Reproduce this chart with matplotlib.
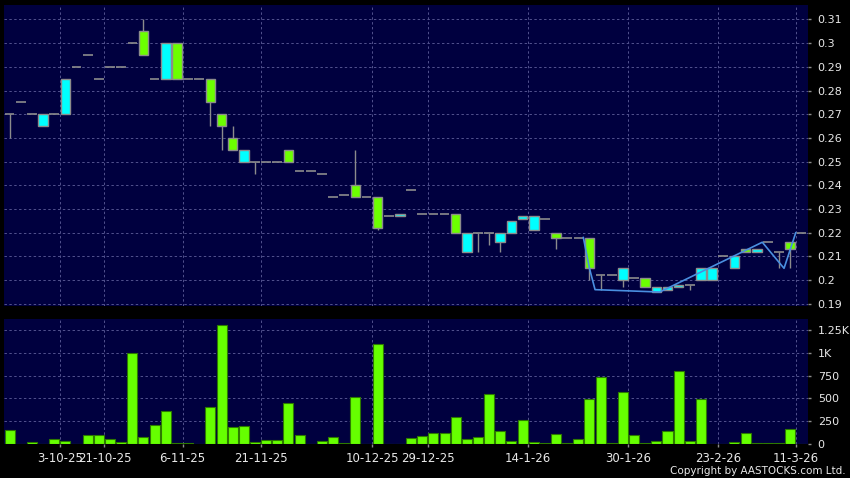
import numpy as np
import matplotlib
matplotlib.use("Agg")
import matplotlib.pyplot as plt
from matplotlib.patches import Rectangle

# daily candles, one slot per trading session
opens = [0.27, 0.275, 0.27, 0.265, 0.27, 0.27, 0.29, 0.295, 0.285, 0.29,
         0.29, 0.30, 0.305, 0.285, 0.285, 0.30, 0.285, 0.285, 0.285, 0.27,
         0.26, 0.25, 0.25, 0.25, 0.25, 0.255, 0.246, 0.246, 0.245, 0.235,
         0.236, 0.24, 0.235, 0.235, 0.227, 0.227, 0.238, 0.228, 0.228, 0.228,
         0.228, 0.212, 0.22, 0.22, 0.216, 0.22, 0.226, 0.221, 0.226, 0.22,
         0.218, 0.218, 0.218, 0.202, 0.202, 0.20, 0.201, 0.201, 0.195, 0.196,
         0.197, 0.198, 0.20, 0.20, 0.21, 0.205, 0.213, 0.212, 0.216, 0.212,
         0.216, 0.22]
highs = [0.27, 0.275, 0.27, 0.27, 0.27, 0.285, 0.29, 0.295, 0.285, 0.29,
         0.29, 0.30, 0.31, 0.285, 0.30, 0.30, 0.285, 0.285, 0.285, 0.27,
         0.265, 0.255, 0.25, 0.25, 0.25, 0.255, 0.246, 0.246, 0.245, 0.235,
         0.236, 0.255, 0.235, 0.235, 0.227, 0.228, 0.238, 0.228, 0.228, 0.228,
         0.228, 0.22, 0.22, 0.22, 0.22, 0.225, 0.227, 0.227, 0.226, 0.22,
         0.218, 0.218, 0.218, 0.202, 0.202, 0.205, 0.201, 0.201, 0.197, 0.197,
         0.198, 0.198, 0.205, 0.205, 0.21, 0.21, 0.213, 0.213, 0.216, 0.212,
         0.216, 0.22]
lows = [0.26, 0.275, 0.27, 0.265, 0.27, 0.27, 0.29, 0.295, 0.285, 0.29,
        0.29, 0.30, 0.295, 0.285, 0.285, 0.285, 0.285, 0.285, 0.265, 0.255,
        0.255, 0.25, 0.245, 0.25, 0.25, 0.25, 0.246, 0.246, 0.245, 0.235,
        0.236, 0.235, 0.235, 0.221, 0.227, 0.227, 0.238, 0.228, 0.228, 0.228,
        0.22, 0.212, 0.212, 0.215, 0.212, 0.22, 0.226, 0.221, 0.226, 0.213,
        0.218, 0.218, 0.20, 0.196, 0.202, 0.197, 0.201, 0.197, 0.195, 0.196,
        0.197, 0.196, 0.20, 0.20, 0.21, 0.205, 0.212, 0.212, 0.216, 0.205,
        0.205, 0.22]
closes = [0.27, 0.275, 0.27, 0.27, 0.27, 0.285, 0.29, 0.295, 0.285, 0.29,
          0.29, 0.30, 0.295, 0.285, 0.30, 0.285, 0.285, 0.285, 0.275, 0.265,
          0.255, 0.255, 0.25, 0.25, 0.25, 0.25, 0.246, 0.246, 0.245, 0.235,
          0.236, 0.235, 0.235, 0.222, 0.227, 0.228, 0.238, 0.228, 0.228, 0.228,
          0.22, 0.22, 0.22, 0.22, 0.22, 0.225, 0.227, 0.227, 0.226, 0.218,
          0.218, 0.218, 0.205, 0.202, 0.202, 0.205, 0.201, 0.197, 0.197, 0.197,
          0.198, 0.198, 0.205, 0.205, 0.21, 0.21, 0.212, 0.213, 0.216, 0.212,
          0.213, 0.22]
volumes = [155, 0, 25, 0, 58, 36, 0, 99, 99, 55,
           25, 1000, 80, 209, 367, 8, 8, 0, 411, 1305,
           187, 198, 18, 47, 44, 455, 99, 0, 36, 80,
           14, 511, 0, 1103, 0, 0, 70, 88, 117, 117,
           301, 58, 73, 544, 139, 36, 265, 18, 10, 114,
           10, 51, 489, 739, 10, 566, 99, 10, 36, 147,
           805, 36, 492, 0, 0, 25, 117, 14, 14, 12,
           169, 0]

# trend line drawn over the last part of the chart
line_x = [51.45, 52.0, 52.5, 58.3, 67.5, 69.45, 70.5]
line_y = [0.218, 0.205, 0.196, 0.195, 0.216, 0.205, 0.22]

label_slots = [5, 9, 16, 23, 33, 38, 47, 56, 64, 71]
date_labels = ["3-10-25", "21-10-25", "6-11-25", "21-11-25", "10-12-25",
               "29-12-25", "14-1-26", "30-1-26", "23-2-26", "11-3-26"]

price_ticks = [0.19, 0.20, 0.21, 0.22, 0.23, 0.24, 0.25, 0.26, 0.27, 0.28, 0.29, 0.30, 0.31]
vol_ticks = [0, 250, 500, 750, 1000, 1250]
vol_tick_labels = ["0", "250", "500", "750", "1K", "1.25K"]

navy = "#00003f"
grid_col = "#52528e"
edge_grey = "#8c8c8c"
up_col = "#00ffff"
down_col = "#6cff00"
text_col = "#e8e8e8"

W, H = 850, 478
fig = plt.figure(figsize=(8.5, 4.78), dpi=100, facecolor="black")
ax = fig.add_axes([4 / W, 1 - 306 / H, 804 / W, 301 / H])
axv = fig.add_axes([4 / W, 1 - 444 / H, 804 / W, 125 / H], sharex=ax)

for a in (ax, axv):
    a.set_facecolor(navy)
    for s in a.spines.values():
        s.set_visible(False)
    a.set_axisbelow(True)
    a.grid(True, color=grid_col, linestyle=(0, (2.5, 2.5)), linewidth=0.7)
    a.yaxis.tick_right()
    a.tick_params(axis="y", colors=edge_grey, labelcolor=text_col, labelsize=8,
                  length=2.5, width=1, pad=4.5)

# candles
bw = 0.86
for i in range(len(opens)):
    o, h, l, c = opens[i], highs[i], lows[i], closes[i]
    if h > l:
        ax.vlines(i, l, h, color=edge_grey, linewidth=1, zorder=2)
    if o == c:
        ax.hlines(o, i - bw / 2, i + bw / 2, color=edge_grey, linewidth=1.2, zorder=3)
    else:
        col = up_col if c > o else down_col
        ax.add_patch(Rectangle((i - bw / 2, min(o, c)), bw, abs(c - o),
                               facecolor=col, edgecolor=edge_grey, linewidth=1, zorder=3))

ax.plot(line_x, line_y, color="#4a8fe0", linewidth=1.2, zorder=4)

ax.set_xlim(-0.51, 71.6)
ax.set_ylim(0.1891, 0.3161)
ax.set_yticks(price_ticks)
ax.set_yticklabels(["%g" % t for t in price_ticks])

tick_pos = [s - 0.5 for s in label_slots]
ax.set_xticks(tick_pos)
ax.tick_params(axis="x", length=0, labelbottom=False)

# volume
axv.bar(np.arange(len(volumes)), volumes, width=0.9, color="#66ff00",
        edgecolor="#2d7a00", linewidth=0.8, zorder=3)
axv.set_ylim(0, 1373)
axv.set_yticks(vol_ticks)
axv.set_yticklabels(vol_tick_labels)
axv.set_xticks(tick_pos)
axv.set_xticklabels(date_labels)
axv.tick_params(axis="x", colors=edge_grey, labelcolor=text_col, labelsize=8.5,
                length=2.5, width=1, pad=3)

fig.text(846 / W, 1 - 471 / H, "Copyright by AASTOCKS.com Ltd.", ha="right",
         va="center", fontsize=7.5, color=text_col)

fig.savefig("out.png", dpi=100, facecolor="black")
